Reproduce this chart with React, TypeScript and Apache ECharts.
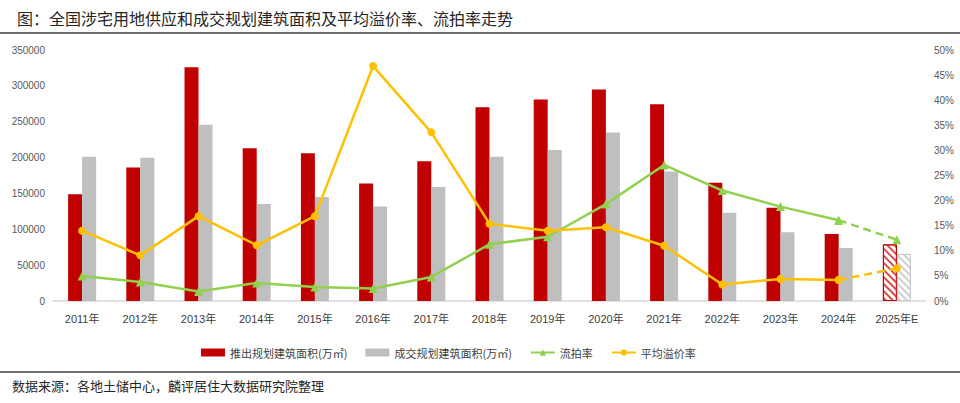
import React, { useEffect, useRef } from "react";
import * as echarts from "echarts";

const categories = ["2011年", "2012年", "2013年", "2014年", "2015年", "2016年", "2017年", "2018年", "2019年", "2020年", "2021年", "2022年", "2023年", "2024年", "2025年E"];
const supplyArea = [149000, 186000, 326000, 213000, 206000, 164000, 195000, 270000, 281000, 295000, 274500, 165000, 130000, 93500, 79000];
const dealArea = [201000, 199600, 245600, 135400, 145100, 131600, 159100, 201000, 210700, 235000, 180500, 123200, 95900, 74000, 65600];
const failRate = [5.0, 3.8, 1.9, 3.6, 2.8, 2.5, 4.8, 11.3, 12.8, 19.3, 27.1, 22.0, 18.8, 16.1, 12.2];
const premiumRate = [14.0, 9.1, 16.9, 11.1, 16.9, 46.8, 33.6, 15.4, 14.0, 14.7, 11.0, 3.3, 4.4, 4.2, 6.5];

const TITLE = "图：全国涉宅用地供应和成交规划建筑面积及平均溢价率、流拍率走势";
const SOURCE = "数据来源：各地土储中心，麟评居住大数据研究院整理";
const NAMES = ["推出规划建筑面积(万㎡)", "成交规划建筑面积(万㎡)", "流拍率", "平均溢价率"];

const RED = "#C00000";
const GRAY = "#BFBFBF";
const GREEN = "#92D050";
const YELLOW = "#FFC000";
const FONT = "'Liberation Sans', 'Noto Sans CJK SC', sans-serif";
const CJK = "'Noto Sans CJK SC', sans-serif";

const last = categories.length - 1;

function hatch(color: string) {
  return {
    symbol: "rect",
    color,
    dashArrayX: [1, 0],
    dashArrayY: [1.2, 2.8],
    rotation: Math.PI / 4,
    symbolSize: 1,
  };
}

export default function App() {
  const ref = useRef<HTMLDivElement>(null);
  useEffect(() => {
    document.body.style.margin = "0";
    const chart = echarts.init(ref.current!, undefined, { renderer: "svg" });
    const supplyData = supplyArea.map((v, i) =>
      i === last
        ? { value: v, itemStyle: { color: "#ffffff", borderColor: RED, borderWidth: 1, decal: hatch("#D94C4C") } }
        : v
    );
    const dealData = dealArea.map((v, i) =>
      i === last
        ? { value: v, itemStyle: { color: "#ffffff", borderColor: "#C8C8C8", borderWidth: 1, decal: hatch("#CFCFCF") } }
        : v
    );
    const solid = (arr: number[]) => arr.map((v, i) => (i < last ? v : null));
    const dashed = (arr: number[]) => arr.map((v, i) => (i >= last - 1 ? v : null));

    chart.setOption({
      animation: false,
      backgroundColor: "#ffffff",
      title: {
        text: TITLE,
        left: 12,
        top: 5,
        textStyle: { fontFamily: CJK, fontSize: 16, fontWeight: "normal", color: "#262626" },
      },
      graphic: [
        { type: "line", shape: { x1: 0, y1: 33, x2: 960, y2: 33 }, style: { stroke: "#404040", lineWidth: 1.5 } },
        { type: "line", shape: { x1: 0, y1: 372, x2: 960, y2: 372 }, style: { stroke: "#404040", lineWidth: 1.5 } },
        {
          type: "text",
          left: 12,
          top: 379,
          style: { text: SOURCE, fontFamily: CJK, fontSize: 13, fill: "#262626" },
        },
      ],
      legend: {
        data: [
          { name: NAMES[0], icon: "rect" },
          { name: NAMES[1], icon: "rect" },
          { name: NAMES[2] },
          { name: NAMES[3] },
        ],
        left: 196,
        top: 342,
        itemWidth: 24,
        itemHeight: 8,
        itemGap: 18,
        textStyle: { fontFamily: CJK, fontSize: 11, color: "#404040" },
      },
      grid: { left: 53, right: 34, top: 50, bottom: 102 },
      xAxis: {
        type: "category",
        data: categories,
        axisLine: { lineStyle: { color: "#D9D9D9", width: 1.5 } },
        axisTick: { show: false },
        axisLabel: { fontFamily: FONT, fontSize: 11, color: "#404040", margin: 12, interval: 0 },
      },
      yAxis: [
        {
          type: "value",
          min: 0,
          max: 350000,
          interval: 50000,
          splitLine: { show: false },
          axisLine: { show: false },
          axisLabel: {
            fontFamily: FONT,
            fontSize: 10,
            color: "#595959",
            margin: 8,
            formatter: (v: number) => String(v),
          },
        },
        {
          type: "value",
          min: 0,
          max: 50,
          interval: 5,
          splitLine: { show: false },
          axisLine: { show: false },
          axisLabel: { fontFamily: FONT, fontSize: 10, color: "#595959", formatter: "{value}%", margin: 8 },
        },
      ],
      series: [
        {
          name: NAMES[0],
          type: "bar",
          data: supplyData,
          barWidth: 14,
          barGap: "0%",
          itemStyle: { color: RED },
        },
        {
          name: NAMES[1],
          type: "bar",
          data: dealData,
          barWidth: 14,
          barGap: "0%",
          itemStyle: { color: GRAY },
        },
        {
          name: NAMES[2],
          type: "line",
          yAxisIndex: 1,
          data: solid(failRate),
          symbol: "triangle",
          symbolSize: 9,
          lineStyle: { color: GREEN, width: 2.5 },
          itemStyle: { color: GREEN },
          z: 3,
        },
        {
          name: "流拍率预测",
          type: "line",
          yAxisIndex: 1,
          data: dashed(failRate),
          symbol: "triangle",
          symbolSize: 9,
          lineStyle: { color: GREEN, width: 2.5, type: [8, 5] },
          itemStyle: { color: GREEN },
          z: 3,
        },
        {
          name: NAMES[3],
          type: "line",
          yAxisIndex: 1,
          data: solid(premiumRate),
          symbol: "circle",
          symbolSize: 8,
          lineStyle: { color: YELLOW, width: 2.5 },
          itemStyle: { color: YELLOW },
          z: 4,
        },
        {
          name: "平均溢价率预测",
          type: "line",
          yAxisIndex: 1,
          data: dashed(premiumRate),
          symbol: "circle",
          symbolSize: 8,
          lineStyle: { color: YELLOW, width: 2.5, type: [8, 5] },
          itemStyle: { color: YELLOW },
          z: 4,
        },
      ],
    });
    return () => chart.dispose();
  }, []);
  return <div ref={ref} style={{ width: 960, height: 403 }} />;
}
